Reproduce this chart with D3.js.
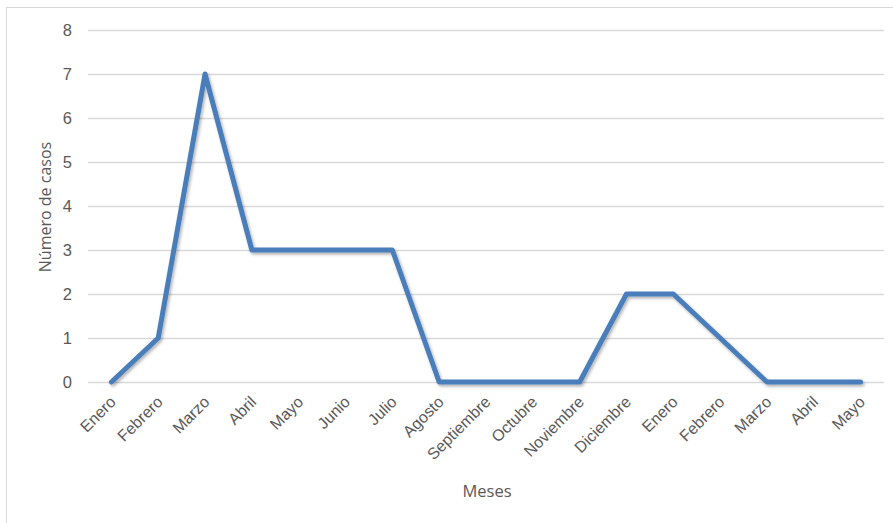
<!DOCTYPE html>
<html>
<head>
<meta charset="utf-8">
<script src="https://cdn.jsdelivr.net/npm/d3@7/dist/d3.min.js"></script>
<style>
  html, body { margin: 0; padding: 0; background: #fff; }
  svg { display: block; font-family: "Open Sans", "Noto Sans", sans-serif; }
</style>
</head>
<body>
<svg id="chart" width="893" height="523"></svg>
<script>
// Monthly case counts, January of one year through May of the next
const months = ["Enero", "Febrero", "Marzo", "Abril", "Mayo", "Junio", "Julio", "Agosto",
  "Septiembre", "Octubre", "Noviembre", "Diciembre", "Enero", "Febrero", "Marzo", "Abril", "Mayo"];
const cases = [0, 1, 7, 3, 3, 3, 3, 0, 0, 0, 0, 2, 2, 1, 0, 0, 0];
const yTicks = [0, 1, 2, 3, 4, 5, 6, 7, 8];

const data = months.map((m, i) => ({ key: i, label: m, value: cases[i] }));

const svg = d3.select("#chart");
const plot = { left: 88, right: 884, top: 30, bottom: 382 };

// Chart area frame
svg.append("rect")
  .attr("x", 6.5).attr("y", 7.5)
  .attr("width", 920).attr("height", 560)
  .attr("fill", "none").attr("stroke", "#d9d9d9").attr("stroke-width", 1);

const x = d3.scalePoint()
  .domain(data.map(d => d.key))
  .range([plot.left, plot.right])
  .padding(0.5);

const y = d3.scaleLinear()
  .domain([0, 8])
  .range([plot.bottom, plot.top]);

// Horizontal gridlines and value labels
const yAxis = svg.append("g")
  .attr("transform", `translate(${plot.left},0)`)
  .call(d3.axisLeft(y).tickValues(yTicks).tickSize(-(plot.right - plot.left)).tickPadding(16).tickFormat(d3.format("d")));
yAxis.select(".domain").remove();
yAxis.selectAll(".tick line").attr("stroke", "#d9d9d9").attr("stroke-width", 1.3);
yAxis.selectAll(".tick text").attr("fill", "#595959").style("font-size", "16.5px");

// Category labels, rotated
const xAxis = svg.append("g")
  .attr("transform", `translate(0,${plot.bottom})`)
  .call(d3.axisBottom(x).tickSize(0).tickFormat(k => months[k]));
xAxis.select(".domain").remove();
xAxis.selectAll(".tick text")
  .attr("fill", "#595959")
  .style("font-size", "16px")
  .attr("text-anchor", "end")
  .attr("x", 0).attr("y", 0)
  .attr("dy", null)
  .attr("transform", "translate(5,21) rotate(-45)");

// Soft shadow under the series line
const defs = svg.append("defs");
const f = defs.append("filter").attr("id", "shadow")
  .attr("x", "-5%").attr("y", "-5%").attr("width", "110%").attr("height", "115%");
f.append("feDropShadow")
  .attr("dx", 1.5).attr("dy", 2).attr("stdDeviation", 1.5)
  .attr("flood-color", "#000").attr("flood-opacity", 0.3);

const line = d3.line()
  .x(d => x(d.key))
  .y(d => y(d.value));

svg.append("path")
  .datum(data)
  .attr("d", line)
  .attr("fill", "none")
  .attr("stroke", "#4a7ebb")
  .attr("stroke-width", 5)
  .attr("stroke-linejoin", "round")
  .attr("stroke-linecap", "round")
  .attr("filter", "url(#shadow)");

// Axis titles
svg.append("text")
  .attr("transform", "translate(51,207) rotate(-90)")
  .attr("text-anchor", "middle")
  .attr("fill", "#595959")
  .style("font-size", "16px")
  .text("Número de casos");

svg.append("text")
  .attr("x", 487).attr("y", 497)
  .attr("text-anchor", "middle")
  .attr("fill", "#595959")
  .style("font-size", "16.5px")
  .text("Meses");
</script>
</body>
</html>
